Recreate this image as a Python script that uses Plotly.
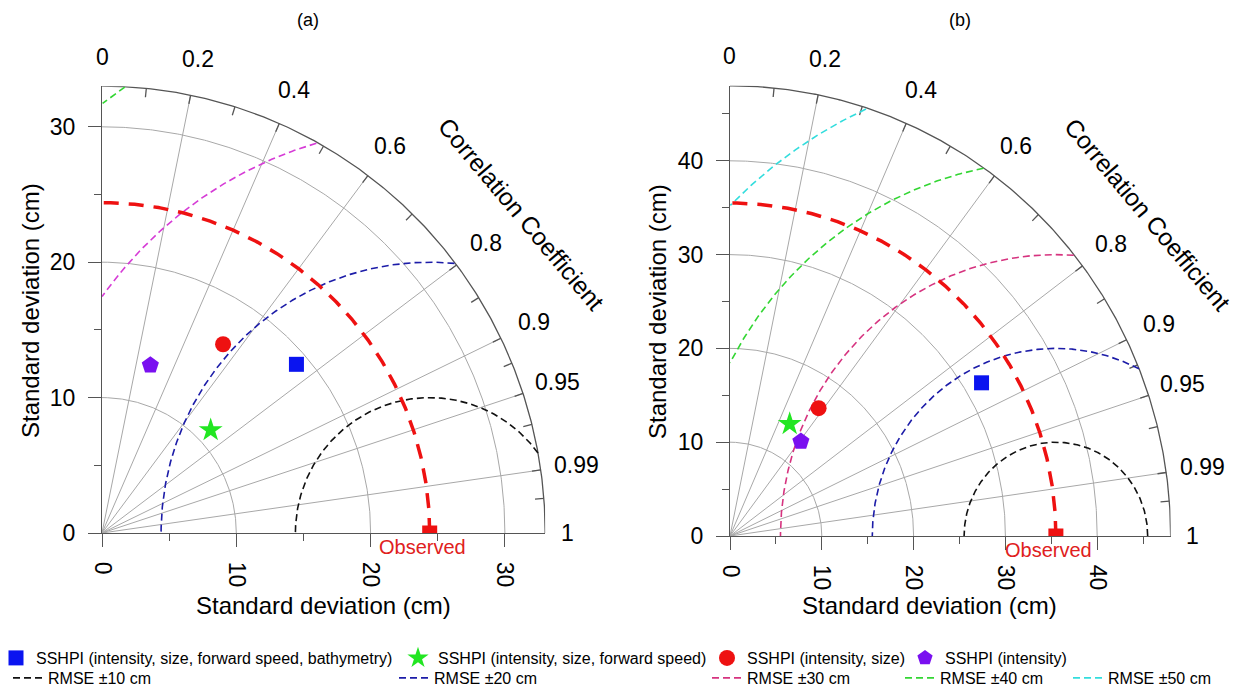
import numpy as np
import plotly.graph_objects as go

# ------------------------------------------------------------------ data
panel_titles = ["(a)", "(b)"]
ref_std = [24.4, 35.5]          # observed standard deviation (cm)
max_std = [33.0, 48.0]          # outer radius of each diagram
std_grid_a = [10, 20, 30]
std_grid_b = [10, 20, 30, 40]

model_names = [
    "SSHPI (intensity, size, forward speed, bathymetry)",
    "SSHPI (intensity, size, forward speed)",
    "SSHPI (intensity, size)",
    "SSHPI (intensity)",
]
std_a = [19.1, 11.1, 16.6, 12.9]
corr_a = [0.758, 0.729, 0.543, 0.279]
std_b = [31.9, 13.6, 16.7, 12.7]
corr_b = [0.859, 0.478, 0.578, 0.608]

rmse_levels = [10, 20, 30, 40, 50]
rmse_labels = ["RMSE ±10 cm", "RMSE ±20 cm", "RMSE ±30 cm", "RMSE ±40 cm", "RMSE ±50 cm"]

corr_lines = [0.2, 0.4, 0.6, 0.8, 0.9, 0.95, 0.99]
corr_minor = [0.1, 0.3, 0.5, 0.7, 0.85, 0.925, 0.97, 0.997]
corr_label_vals = [0, 0.2, 0.4, 0.6, 0.8, 0.9, 0.95, 0.99, 1]
corr_label_text = ["0", "0.2", "0.4", "0.6", "0.8", "0.9", "0.95", "0.99", "1"]

# ------------------------------------------------------------------ styles
OFF = 8                       # page body margin: figure starts 8px in
W, H = 1253 - OFF, 688 - OFF
FONT = "Arial, Liberation Sans, sans-serif"
model_symbols = ["square", "star", "circle", "pentagon"]
model_colors = ["#0a14f0", "#22e622", "#ee1111", "#7a10f0"]
model_sizes = [15, 18, 16, 18]
rmse_colors_a = ["#111111", "#1c1ca8", "#d63cd6", "#33d633", "#33dddd"]
rmse_colors_b = ["#111111", "#1c1ca8", "#d6337f", "#33d633", "#33dddd"]
GRID = "#a8a8a8"
AXC = "#555555"

# pixel geometry in screen px: (origin_x, origin_y, px per unit x, px per unit y)
geom = [(102, 533, 13.43, 13.54), (730, 536, 9.18, 9.38)]

# legend placement (figure px, left/top), one legend per entry
model_leg_pos = [(-12, 633), (390, 633), (699, 633), (897, 633)]
rmse_leg_pos = [(0, 653), (386, 653), (699, 653), (892, 653), (1060, 653)]
model_leg_ids = ["legend", "legend2", "legend3", "legend4"]
rmse_leg_ids = ["legend5", "legend6", "legend7", "legend8", "legend9"]

fig = go.Figure()
axes_names = [("x", "y"), ("x2", "y2")]
layout_axes = {}
annotations = []


def sx_(px):
    return (px - OFF) / W


def sy_(py):
    return 1 - (py - OFF) / H


def txt(x, y, text, size, color="black", angle=0, **kw):
    d = dict(x=x, y=y, xref="paper", yref="paper", text=text, showarrow=False,
             xanchor="center", yanchor="middle", textangle=angle,
             font=dict(size=size, color=color, family=FONT))
    d.update(kw)
    return d


for p in range(2):
    R = max_std[p]
    ref = ref_std[p]
    ox, oy, sx, sy = geom[p]
    xd = [sx_(ox), sx_(ox + R * sx)]
    yd = [sy_(oy), sy_(oy - R * sy)]
    xa, ya = axes_names[p]

    def paper(x, y, xd=xd, yd=yd, R=R):
        return xd[0] + x / R * (xd[1] - xd[0]), yd[0] + y / R * (yd[1] - yd[0])

    th = np.linspace(0, np.pi / 2, 300)
    grid_std = std_grid_a if p == 0 else std_grid_b

    # std grid arcs + correlation radial lines
    gx, gy = [], []
    for s in grid_std:
        gx += list(s * np.cos(th)) + [None]
        gy += list(s * np.sin(th)) + [None]
    for c in corr_lines:
        a = np.arccos(c)
        gx += [0, R * np.cos(a), None]
        gy += [0, R * np.sin(a), None]
    fig.add_trace(go.Scatter(x=gx, y=gy, mode="lines", line=dict(color=GRID, width=1),
                             hoverinfo="skip", showlegend=False, xaxis=xa, yaxis=ya))

    # outer arc with ticks
    ox_, oy_ = list(R * np.cos(th)), list(R * np.sin(th))
    ox_ += [None]; oy_ += [None]
    for c in corr_minor + corr_lines:
        a = np.arccos(c)
        ox_ += [R * np.cos(a), R * 0.98 * np.cos(a), None]
        oy_ += [R * np.sin(a), R * 0.98 * np.sin(a), None]
    fig.add_trace(go.Scatter(x=ox_, y=oy_, mode="lines", line=dict(color=AXC, width=1.3),
                             hoverinfo="skip", showlegend=False, xaxis=xa, yaxis=ya))

    # RMSE arcs centred on the observed point
    tt = np.linspace(0, np.pi, 800)
    cols = rmse_colors_a if p == 0 else rmse_colors_b
    for k, rm in enumerate(rmse_levels):
        xs = ref + rm * np.cos(tt)
        ys = rm * np.sin(tt)
        inside = (xs >= 0) & (np.hypot(xs, ys) <= R)
        if not inside.any():
            continue
        xx = [float(a) if ok else None for a, ok in zip(xs, inside)]
        yy = [float(b) if ok else None for b, ok in zip(ys, inside)]
        fig.add_trace(go.Scatter(
            x=xx, y=yy, mode="lines", name=rmse_labels[k],
            line=dict(color=cols[k], width=1.6, dash="7px,4px"),
            showlegend=(p == 1), legend=rmse_leg_ids[k],
            hoverinfo="skip", xaxis=xa, yaxis=ya))

    # observed std arc
    fig.add_trace(go.Scatter(x=ref * np.cos(th), y=ref * np.sin(th), mode="lines",
                             line=dict(color="#ee1111", width=3.5, dash="15px,10px"),
                             hoverinfo="skip", showlegend=False, xaxis=xa, yaxis=ya))
    # observed point (half hidden by the axis like the reference)
    fig.add_trace(go.Scatter(x=[ref], y=[0], mode="markers",
                             marker=dict(symbol="square", size=15, color="#ee1111"),
                             cliponaxis=True, showlegend=False, xaxis=xa, yaxis=ya))

    # models
    stds = std_a if p == 0 else std_b
    cors = corr_a if p == 0 else corr_b
    for k in range(len(model_names)):
        a = np.arccos(cors[k])
        fig.add_trace(go.Scatter(
            x=[stds[k] * np.cos(a)], y=[stds[k] * np.sin(a)], mode="markers",
            name=model_names[k],
            marker=dict(symbol=model_symbols[k], size=model_sizes[k], color=model_colors[k],
                        line=dict(width=0)),
            showlegend=(p == 0), legend=model_leg_ids[k], xaxis=xa, yaxis=ya))

    axis_common = dict(range=[0, R], showgrid=False, zeroline=False, showline=True,
                       linecolor=AXC, linewidth=1.3, ticks="outside", ticklen=13,
                       tickcolor=AXC, tickwidth=1.2, tick0=0, dtick=10,
                       tickfont=dict(size=23, color="black", family=FONT),
                       minor=dict(ticks="outside", ticklen=7, tick0=0, dtick=5,
                                  tickcolor=AXC, tickwidth=1.2),
                       fixedrange=True, automargin=False)
    xkey = "xaxis" if p == 0 else "xaxis2"
    ykey = "yaxis" if p == 0 else "yaxis2"
    layout_axes[xkey] = dict(axis_common, domain=xd, anchor=ya, tickangle=90,
                             ticklabelstandoff=10)
    layout_axes[ykey] = dict(axis_common, domain=yd, anchor=xa, ticklabelstandoff=8)

    # correlation labels
    for c, t in zip(corr_label_vals, corr_label_text):
        a = np.arccos(c)
        f = 1.05 if c == 1 else (1.066 if c == 0 else 1.082)
        px, py = paper(R * f * np.cos(a), R * f * np.sin(a))
        annotations.append(txt(px, py, t, 23))
    a = np.radians(37)
    px, py = paper(R * 1.185 * np.cos(a), R * 1.185 * np.sin(a))
    annotations.append(txt(px, py, "Correlation Coefficient", 24.5, angle=50))
    # observed label
    px, py = paper(ref, 0)
    annotations.append(txt(px, py, "Observed", 20, color="#e02020", xshift=-7, yshift=-14))
    # axis titles
    annotations.append(txt(sx_(30 if p == 0 else 657), sy_(311),
                           "Standard deviation (cm)", 24, angle=-90))
    annotations.append(txt(sx_(323 if p == 0 else 930), sy_(605),
                           "Standard deviation (cm)", 24))
    # panel title
    annotations.append(txt(sx_(308 if p == 0 else 960), sy_(20), panel_titles[p], 18))

legends = {}
for ids, pos in ((model_leg_ids, model_leg_pos), (rmse_leg_ids, rmse_leg_pos)):
    for name, (lx, ly) in zip(ids, pos):
        legends[name] = dict(x=lx / W, y=1 - ly / H, xanchor="left", yanchor="top",
                             orientation="v", tracegroupgap=0, bgcolor="rgba(0,0,0,0)",
                             borderwidth=0,
                             font=dict(size=16, color="black", family=FONT))

fig.update_layout(
    width=W, height=H, margin=dict(l=0, r=0, t=0, b=0, autoexpand=False),
    paper_bgcolor="white", plot_bgcolor="rgba(0,0,0,0)",
    template="none", font=dict(family=FONT, color="black"),
    annotations=annotations, **layout_axes, **legends,
)
fig.write_html("out.html")
